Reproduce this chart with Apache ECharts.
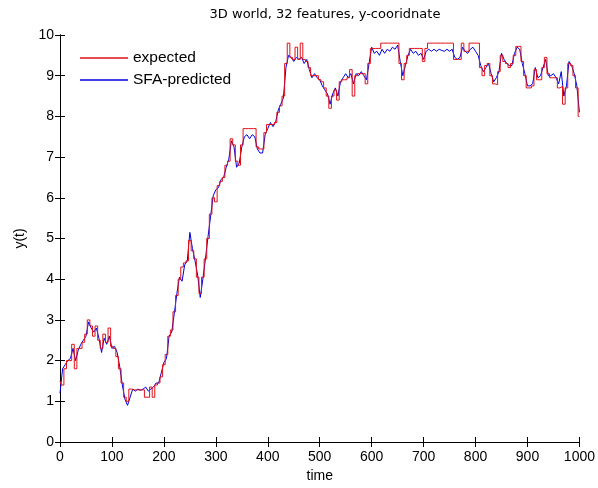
<!DOCTYPE html>
<html>
<head>
<meta charset="utf-8">
<script src="https://cdn.jsdelivr.net/npm/echarts@6/dist/echarts.min.js"></script>
<style>html,body{margin:0;padding:0;background:#fff}#c{width:598px;height:488px}</style>
</head>
<body>
<div id="c"></div>
<script>
// time step between samples (time units)
var timeStep = 5;
var xTicks = [0,100,200,300,400,500,600,700,800,900,1000];
var yTicks = [0,1,2,3,4,5,6,7,8,9,10];
var seriesNames = ['expected', 'SFA-predicted'];

// expected y(t), sampled at t = 0,5,...,1000
var expected = [
1.5,1.4,1.8,2.0,2.0,2.4,1.8,2.3,2.3,2.45,
2.65,3.0,2.85,2.6,2.85,2.5,2.3,2.65,2.45,2.8,
2.35,2.3,2.1,1.8,1.45,1.1,1.0,1.3,1.28,1.28,
1.28,1.28,1.28,1.1,1.1,1.35,1.1,1.4,1.45,1.6,
1.9,2.15,2.6,2.75,3.2,3.6,4.0,4.3,4.4,4.45,
4.95,4.7,4.5,4.05,3.65,4.05,4.5,5.0,5.6,6.0,
5.9,6.3,6.4,6.5,6.8,6.9,7.45,7.3,6.9,6.8,
7.3,7.7,7.7,7.7,7.7,7.7,7.25,7.2,7.2,7.6,
7.8,7.8,7.8,7.85,8.1,8.26,8.5,9.3,9.8,9.45,
9.4,9.7,9.4,9.8,9.4,9.35,9.2,9.0,9.0,9.0,
8.9,8.85,8.7,8.5,8.2,8.5,8.65,8.4,8.85,8.9,
8.9,8.95,9.15,8.5,9.0,9.05,9.05,9.05,8.8,9.3,
9.67,9.67,9.67,9.67,9.8,9.8,9.8,9.8,9.8,9.8,
9.8,9.3,8.9,9.3,9.5,9.67,9.67,9.67,9.67,9.67,
9.35,9.67,9.8,9.8,9.8,9.8,9.8,9.8,9.8,9.8,
9.8,9.8,9.4,9.4,9.4,9.8,9.6,9.6,9.8,9.8,
9.8,9.8,9.2,9.0,9.25,9.3,9.0,8.8,8.78,9.1,
9.5,9.35,9.3,9.2,9.3,9.5,9.72,9.72,9.35,9.0,
8.7,8.7,8.75,9.15,8.9,8.9,9.2,9.45,9.05,8.95,
8.95,8.95,8.7,8.74,8.3,8.7,9.3,9.25,9.0,8.7,
8.0
];

// SFA-predicted y(t), same sampling
var predicted = [
1.2,1.8,1.9,2.0,2.05,2.3,2.0,2.25,2.4,2.5,
2.6,2.95,2.8,2.7,2.8,2.55,2.2,2.55,2.4,2.6,
2.3,2.35,2.2,1.85,1.4,1.05,0.9,1.1,1.3,1.25,
1.3,1.27,1.3,1.35,1.25,1.3,1.35,1.45,1.45,1.7,
1.95,2.05,2.6,2.7,3.15,3.65,4.05,3.95,4.35,4.45,
5.15,4.75,4.45,4.1,3.55,4.0,4.5,5.05,5.55,6.05,
6.2,6.25,6.45,6.5,6.75,6.95,7.4,7.25,6.75,6.85,
7.25,7.5,7.55,7.45,7.55,7.5,7.2,7.1,7.1,7.55,
7.7,7.85,7.75,7.85,8.15,8.3,8.45,9.2,9.5,9.45,
9.35,9.45,9.4,9.45,9.3,9.4,9.15,8.95,9.05,8.95,
8.9,8.75,8.65,8.55,8.3,8.55,8.7,8.5,8.85,8.95,
9.05,8.95,9.05,8.8,9.05,9.0,9.1,9.0,8.9,9.3,
9.7,9.55,9.6,9.5,9.65,9.55,9.65,9.6,9.7,9.65,
9.75,9.35,9.0,9.25,9.5,9.65,9.55,9.6,9.5,9.55,
9.4,9.6,9.65,9.6,9.65,9.6,9.65,9.62,9.6,9.65,
9.6,9.65,9.45,9.4,9.45,9.7,9.6,9.55,9.65,9.7,
9.6,9.5,9.25,9.1,9.2,9.3,9.05,8.85,8.95,9.1,
9.55,9.4,9.3,9.25,9.25,9.55,9.7,9.65,9.3,9.05,
8.75,8.75,8.8,9.2,8.95,9.0,9.2,9.4,9.0,9.0,
9.05,8.95,8.8,9.1,8.5,8.75,9.35,9.25,9.05,8.75,
8.1
];

function pairs(arr){ return arr.map(function(v,i){ return [i*timeStep, v]; }); }

var FONT = 'Liberation Sans, Arial, sans-serif';
var chart = echarts.init(document.getElementById('c'), null, {renderer:'canvas'});
var axisCommon = {
  axisLine:{show:true, lineStyle:{color:'#000', width:1}},
  axisTick:{show:true, inside:true, length:5, lineStyle:{color:'#000'}},
  splitLine:{show:false}
};
chart.setOption({
  animation:false,
  backgroundColor:'#fff',
  title:{text:'3D world, 32 features, y-cooridnate', left:320, textAlign:'center', top:3,
    textStyle:{fontFamily:'DejaVu Sans, sans-serif', fontSize:13, fontWeight:'normal', color:'#000'}},
  legend:{left:75, top:45, orient:'vertical', itemWidth:48, itemHeight:1.5, itemGap:6, icon:'rect',
    textStyle:{fontFamily:FONT, fontSize:15.5, color:'#000', padding:[0,0,0,0]},
    data:seriesNames},
  grid:{left:60, right:17, top:35, bottom:41, containLabel:false},
  xAxis:[
    Object.assign({type:'value', min:xTicks[0], max:xTicks[xTicks.length-1], interval:100, position:'bottom',
      name:'time', nameLocation:'middle', nameGap:27,
      nameTextStyle:{fontFamily:FONT, fontSize:14, color:'#000'},
      axisLabel:{fontFamily:FONT, fontSize:14, color:'#000', margin:8,
        formatter:function(v){ return String(v); }}}, axisCommon),
    Object.assign({type:'value', min:xTicks[0], max:xTicks[xTicks.length-1], interval:100, position:'top',
      axisLabel:{show:false}}, axisCommon)
  ],
  yAxis:[
    Object.assign({type:'value', min:yTicks[0], max:yTicks[yTicks.length-1], interval:1, position:'left',
      name:'y(t)', nameLocation:'middle', nameGap:30, nameRotate:90,
      nameTextStyle:{fontFamily:FONT, fontSize:14, color:'#000'},
      axisLabel:{fontFamily:FONT, fontSize:14, color:'#000', margin:6}}, axisCommon),
    Object.assign({type:'value', min:yTicks[0], max:yTicks[yTicks.length-1], interval:1, position:'right',
      axisLabel:{show:false}}, axisCommon)
  ],
  series:[
    {name:seriesNames[1], type:'line', showSymbol:false, data:pairs(predicted), z:2,
      lineStyle:{color:'#0000dd', width:1}, itemStyle:{color:'#0000dd'}},
    {name:seriesNames[0], type:'line', step:'middle', showSymbol:false, data:pairs(expected), z:3,
      lineStyle:{color:'#e0101a', width:1}, itemStyle:{color:'#e0101a'}}
  ]
});
</script>
</body>
</html>
